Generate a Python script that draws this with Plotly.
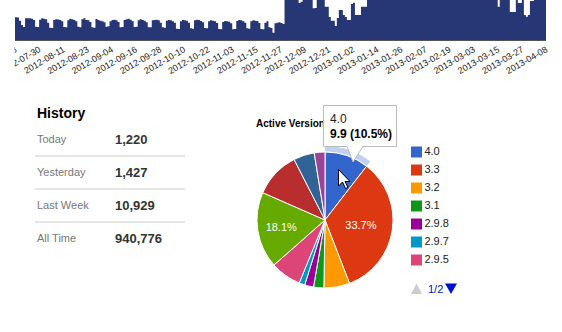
import plotly.graph_objects as go
import pandas as pd

W, H = 562, 332
FONT = "Arial, 'Liberation Sans', sans-serif"

# ---------------- data ----------------
start_date = "2012-07-18"
daily_downloads = [
    680, 675, 580, 450, 390,
    650, 655, 650, 640, 600, 400, 390,
    610, 650, 640, 620, 520, 370, 360,
    600, 620, 615, 600, 560, 390, 380,
    590, 640, 620, 600, 560, 400, 380,
    620, 650, 600, 590, 540, 380, 370,
    630, 600, 580, 560, 530, 400, 410,
    560, 600, 610, 590, 540, 380, 390,
    600, 620, 640, 610, 560, 390, 400,
    590, 620, 600, 580, 530, 380, 380,
    590, 600, 610, 590, 520, 380, 370,
    580, 600, 590, 560, 520, 340, 330,
    560, 600, 590, 580, 520, 350, 340,
    590, 610, 600, 570, 530, 360, 350,
    560, 590, 580, 560, 510, 330, 320,
    540, 570, 560, 550, 500, 320, 330,
    570, 600, 590, 560, 520, 350, 340,
    560, 590, 580, 570, 510, 330, 320,
    520, 560, 380, 360, 220, 500, 520, 530, 510, 480,
    1650, 1720, 1680, 1600, 1450, 1380, 1520,
    1110, 1150, 1700, 1760, 1720, 1640, 1500,
    950, 960, 1680, 1750, 1700, 1600, 1000,
    1000, 690, 580, 580, 420, 660, 900,
    900, 750, 690, 600, 600, 1080, 1120,
    750, 750, 750, 1000, 1000, 1000, 1500,
    1650, 1720, 1700, 1640, 1400, 1350, 1600,
    1750, 1780, 1760, 1700, 1450, 1380, 1650,
    1800, 1820, 1790, 1720, 1480, 1420, 1700,
    1850, 1880, 1840, 1760, 1500, 1430, 1720,
    1860, 1900, 1870, 1800, 1520, 1450, 1750,
    1900, 1920, 1880, 1820, 1550, 1480, 1780,
    1920, 1950, 1900, 1850, 1560, 1490, 1800,
    1950, 1980, 1930, 1860, 1580, 1500, 1820,
    1960, 2000, 1950, 1880, 1600, 1520, 1840,
    1560, 1000, 1850, 1900, 1880, 1820, 1580,
    840, 840, 840, 1500, 1110, 1110, 1600,
    750, 700, 750, 1170, 1170, 1800, 1900,
    1850, 1780, 1500, 1700, 1650,
]
tick_dates = [
    "2012-07-18", "2012-07-30", "2012-08-11", "2012-08-23", "2012-09-04",
    "2012-09-16", "2012-09-28", "2012-10-10", "2012-10-22", "2012-11-03",
    "2012-11-15", "2012-11-27", "2012-12-09", "2012-12-21", "2013-01-02",
    "2013-01-14", "2013-01-26", "2013-02-07", "2013-02-19", "2013-03-03",
    "2013-03-15", "2013-03-27", "2013-04-08",
]
area_y_max = 1200

version_labels = ["4.0", "3.3", "3.2", "3.1", "2.9.8", "2.9.7", "2.9.5",
                  "2.9.4", "2.9.3", "2.9.2", "2.9.1"]
version_values = [9.9, 31.8, 5.8, 2.3, 2.0, 1.3, 6.9, 17.1, 10.3, 4.7, 2.4]
version_colors = ["#3366cc", "#dc3912", "#ff9900", "#109618", "#990099",
                  "#0099c6", "#dd4477", "#66aa00", "#b82e2e", "#316395",
                  "#994499"]
legend_page_size = 7
hovered_index = 0

history_labels = ["Today", "Yesterday", "Last Week", "All Time"]
history_values = [1220, 1427, 10929, 940776]

# ---------------- figure ----------------
dates = pd.date_range(start_date, periods=len(daily_downloads), freq="D")
navy = "#273674"

fig = go.Figure()

fig.add_trace(go.Scatter(
    x=dates, y=daily_downloads, mode="lines",
    line=dict(width=0, shape="hv", color=navy),
    fill="tozeroy", fillcolor=navy, hoverinfo="skip",
    xaxis="x", yaxis="y"))

# pie geometry (pixels)
cx, cy, r = 325, 220, 68
ring_r = 74

def dom_x(a, b):
    return [a / W, b / W]

def dom_y(top, bottom):
    return [1 - bottom / H, 1 - top / H]

total = sum(version_values)
ring_colors = ["#c2d1f0" if i == hovered_index else "rgba(0,0,0,0)"
               for i in range(len(version_values))]
fig.add_trace(go.Pie(
    labels=version_labels, values=version_values, sort=False,
    direction="clockwise", rotation=0, hole=(r + 0.5) / ring_r,
    marker=dict(colors=ring_colors, line=dict(width=0)),
    textinfo="none", hoverinfo="skip", showlegend=False,
    domain=dict(x=dom_x(cx - ring_r, cx + ring_r), y=dom_y(cy - ring_r, cy + ring_r))))

fig.add_trace(go.Pie(
    labels=version_labels, values=version_values, sort=False,
    direction="clockwise", rotation=0,
    marker=dict(colors=version_colors, line=dict(color="white", width=1)),
    texttemplate=["%{percent:.1%}" if v / total > 0.15 else "" for v in version_values],
    textposition="inside", insidetextorientation="horizontal",
    insidetextfont=dict(color="white", size=11, family=FONT),
    hoverinfo="skip", showlegend=False,
    domain=dict(x=dom_x(cx - r, cx + r), y=dom_y(cy - r, cy + r))))

# legend (first page)
fig.add_trace(go.Scatter(
    x=[5.5] * legend_page_size, y=list(range(legend_page_size)),
    mode="markers+text", text=version_labels[:legend_page_size],
    textposition="middle right",
    textfont=dict(size=11, color="#222222", family=FONT),
    marker=dict(symbol="square", size=11, color=version_colors[:legend_page_size],
                line=dict(width=0)),
    cliponaxis=False, hoverinfo="skip", xaxis="x3", yaxis="y3"))

# pie title (under the tooltip)
fig.add_trace(go.Scatter(
    x=[256], y=[124], mode="text", text=["<b>Active Versions</b>"],
    textposition="middle right",
    textfont=dict(size=10, color="#000000", family=FONT),
    cliponaxis=False, hoverinfo="skip", xaxis="x4", yaxis="y4"))

shapes = []
annotations = []

# chart container clips the first tick labels at its left edge
shapes.append(dict(type="rect", xref="x4", yref="y4", x0=0, x1=14.5, y0=41, y1=90,
                   fillcolor="white", line=dict(width=0), layer="above"))

# History panel
annotations.append(dict(x=35, y=113, xref="x4", yref="y4", xanchor="left", yanchor="middle",
                        text="<b>History</b>", showarrow=False,
                        font=dict(size=14, color="#000000", family=FONT)))
row_y = [139, 172, 205, 238]
for i, (lab, val) in enumerate(zip(history_labels, history_values)):
    annotations.append(dict(x=35, y=row_y[i], xref="x4", yref="y4", xanchor="left",
                            yanchor="middle", text=lab, showarrow=False,
                            font=dict(size=11, color="#777777", family=FONT)))
    annotations.append(dict(x=113, y=row_y[i], xref="x4", yref="y4", xanchor="left",
                            yanchor="middle", text="<b>{:,}</b>".format(val), showarrow=False,
                            font=dict(size=13, color="#333333", family=FONT)))
    if i < len(history_labels) - 1:
        ly = (row_y[i] + row_y[i + 1]) / 2 + 0.5
        shapes.append(dict(type="line", xref="x4", yref="y4", x0=35, x1=185, y0=ly, y1=ly,
                           line=dict(color="#cccccc", width=1)))

# tooltip box with callout
shapes.append(dict(type="path", xref="x4", yref="y4",
                   path="M323.5,105.5 H396.5 V146.5 H363 L353,162 L347,146.5 H323.5 Z",
                   fillcolor="white", line=dict(color="#bbbbbb", width=1), layer="above"))
hv = version_values[hovered_index]
annotations.append(dict(x=328, y=119, xref="x4", yref="y4", xanchor="left", yanchor="middle",
                        text=version_labels[hovered_index], showarrow=False,
                        font=dict(size=12, color="#222222", family=FONT)))
annotations.append(dict(x=328, y=133.5, xref="x4", yref="y4", xanchor="left", yanchor="middle",
                        text="<b>{} ({:.1%})</b>".format(hv, hv / total), showarrow=False,
                        font=dict(size=12, color="#000000", family=FONT)))

# mouse cursor
shapes.append(dict(type="path", xref="x4", yref="y4",
                   path="M338.5,169.5 V186 L342.5,182 L345.5,188.5 L348,187.5 L345,181.5 L350,181.5 Z",
                   fillcolor="white", line=dict(color="black", width=1), layer="above"))

# legend pager
shapes.append(dict(type="path", xref="x4", yref="y4",
                   path="M411,294 L422,294 L416.5,283.5 Z",
                   fillcolor="#cccccc", line=dict(width=0), layer="above"))
shapes.append(dict(type="path", xref="x4", yref="y4",
                   path="M445,283.5 L457,283.5 L451,294 Z",
                   fillcolor="#0011cc", line=dict(width=0), layer="above"))
annotations.append(dict(x=426, y=289, xref="x4", yref="y4", xanchor="left", yanchor="middle",
                        text="1/2", showarrow=False,
                        font=dict(size=11, color="#0011cc", family=FONT)))

fig.update_layout(
    width=W, height=H, margin=dict(l=0, r=0, t=0, b=0, autoexpand=False),
    paper_bgcolor="white", plot_bgcolor="rgba(0,0,0,0)",
    showlegend=False, font=dict(family=FONT),
    xaxis=dict(domain=[15 / W, 546 / W], anchor="y", type="date",
               range=[dates[0], dates[-1]], tickmode="array", tickvals=tick_dates,
               tickformat="%Y-%m-%d", tickangle=-30, ticklabeloverflow="allow",
               automargin=False,
               tickfont=dict(size=9, color="#222222", family=FONT),
               showline=True, linecolor="#555555", linewidth=1,
               showgrid=False, zeroline=False, ticks="", fixedrange=True),
    yaxis=dict(domain=[1 - 40 / H, 1], anchor="x", range=[0, area_y_max],
               visible=False, fixedrange=True),
    xaxis3=dict(domain=[411 / W, 500 / W], anchor="y3", range=[0, 89], visible=False),
    yaxis3=dict(domain=[1 - 269 / H, 1 - 143 / H], anchor="x3",
                range=[legend_page_size - 0.5, -0.5], visible=False),
    xaxis4=dict(domain=[0, 1], anchor="y4", range=[0, W], visible=False),
    yaxis4=dict(domain=[0, 1], anchor="x4", range=[H, 0], visible=False),
    shapes=shapes, annotations=annotations,
)

fig.write_html("out.html", config={"displayModeBar": False})
